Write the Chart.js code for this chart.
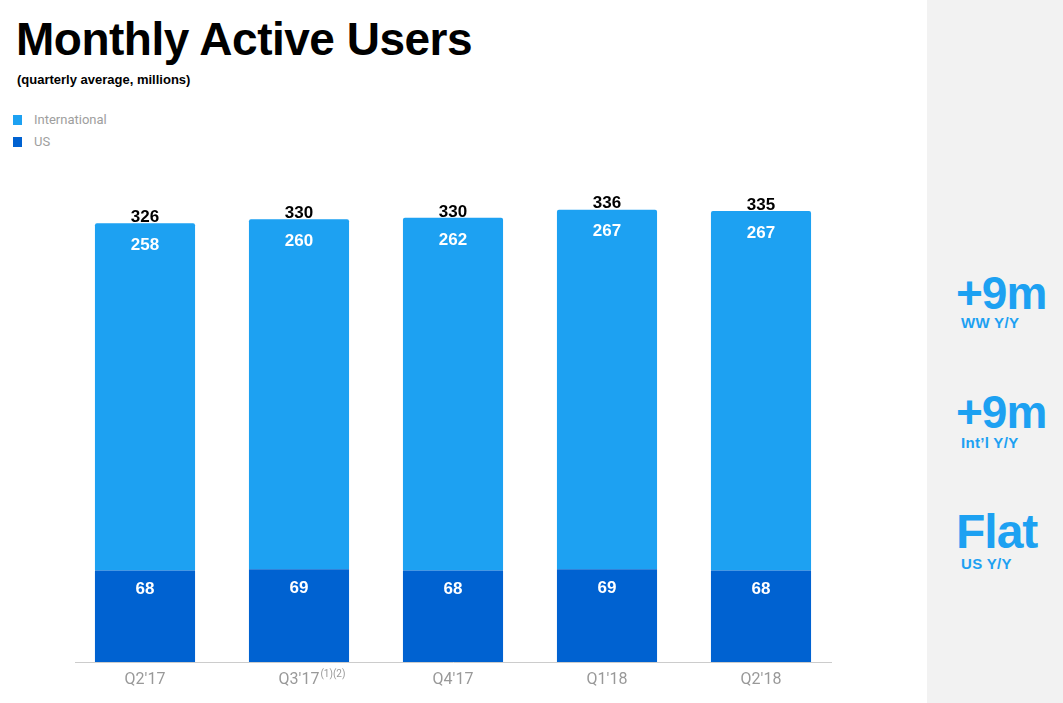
<!DOCTYPE html>
<html>
<head>
<meta charset="utf-8">
<script src="https://cdn.jsdelivr.net/npm/chart.js@4"></script>
<style>
  body { margin: 0; width: 1063px; height: 703px; overflow: hidden; background: #fff; font-family: "Liberation Sans", Arial, sans-serif; }
  #title { position: absolute; left: 16px; top: 12px; font-size: 46px; font-weight: bold; color: #000; letter-spacing: -0.5px; }
  #subtitle { position: absolute; left: 17px; top: 72px; font-size: 13px; font-weight: bold; color: #000; }
  .leg { position: absolute; left: 13px; font-family: Roboto, sans-serif; font-size: 13px; color: #9e9e9e; }
  .leg span { display: inline-block; width: 9px; height: 10px; margin-right: 12px; vertical-align: -1px; }
  #side { position: absolute; left: 927px; top: 0; width: 136px; height: 703px; background: #f2f2f2; color: #1da1f2; font-weight: bold; }
  .big { position: absolute; left: 29px; font-size: 46px; letter-spacing: -1px; }
  .small { position: absolute; left: 34px; font-size: 15px; letter-spacing: 0.3px; }
  #wrap { position: absolute; left: 0; top: 0; width: 927px; height: 703px; }
</style>
</head>
<body>
<div id="title">Monthly Active Users</div>
<div id="subtitle">(quarterly average, millions)</div>
<div class="leg" style="top:112px"><span style="background:#1da1f2"></span>International</div>
<div class="leg" style="top:134px"><span style="background:#0062d1"></span>US</div>
<div id="side">
  <div class="big" style="top:266px">+9m</div>
  <div class="small" style="top:314px">WW Y/Y</div>
  <div class="big" style="top:385px">+9m</div>
  <div class="small" style="top:434px">Int’l Y/Y</div>
  <div class="big" style="top:504px; font-size:48px">Flat</div>
  <div class="small" style="top:555px">US Y/Y</div>
</div>
<div id="wrap"><canvas id="mau"></canvas></div>
<script>
// data
const quarters = ["Q2'17", "Q3'17", "Q4'17", "Q1'18", "Q2'18"];
const footnotes = ["", "(1)(2)", "", "", ""];
const international = [258, 260, 262, 267, 267];
const us = [68, 69, 68, 69, 68];
const totals = [326, 330, 330, 336, 335];

// value labels on the bars, baseline and superscripts on ticks
const labelPlugin = {
  id: "labels",
  beforeDatasetsDraw(chart) {
    const ctx = chart.ctx;
    const a = chart.chartArea;
    ctx.save();
    ctx.strokeStyle = "#cccccc";
    ctx.lineWidth = 1;
    ctx.beginPath();
    ctx.moveTo(a.left + 7, a.bottom + 0.5);
    ctx.lineTo(a.right - 6, a.bottom + 0.5);
    ctx.stroke();
    ctx.restore();
  },
  afterDatasetsDraw(chart) {
    const ctx = chart.ctx;
    ctx.save();
    ctx.textAlign = "center";
    ctx.textBaseline = "middle";
    const usMeta = chart.getDatasetMeta(0);
    const intMeta = chart.getDatasetMeta(1);
    ctx.font = "bold 17px 'Liberation Sans', Arial";
    usMeta.data.forEach((bar, i) => {
      ctx.fillStyle = "#fff";
      ctx.fillText(us[i], bar.x, bar.y + 19);
    });
    intMeta.data.forEach((bar, i) => {
      ctx.fillStyle = "#fff";
      ctx.fillText(international[i], bar.x, bar.y + 22);
      ctx.fillStyle = "#000";
      ctx.fillText(totals[i], bar.x, bar.y - 6);
    });
    // footnotes
    const xs = chart.scales.x;
    ctx.textAlign = "left";
    footnotes.forEach((f, i) => {
      if (!f) return;
      const x = xs.getPixelForValue(i);
      ctx.font = "16px Roboto";
      const w = ctx.measureText(quarters[i]).width;
      ctx.font = "10px Roboto";
      ctx.fillStyle = "#999";
      ctx.fillText(f, x + w / 2 + 1, chart.chartArea.bottom + 12);
    });
    ctx.restore();
  }
};

new Chart(document.getElementById("mau"), {
  type: "bar",
  data: {
    labels: quarters,
    datasets: [
      { label: "US", data: us, backgroundColor: "#0062d1" },
      { label: "International", data: international, backgroundColor: "#1da1f2", borderRadius: { topLeft: 2, topRight: 2 }, borderSkipped: "bottom" }
    ]
  },
  options: {
    responsive: true,
    maintainAspectRatio: false,
    animation: false,
    layout: { padding: { left: 68, right: 89, top: 164, bottom: 0 } },
    datasets: { bar: { barPercentage: 0.65, categoryPercentage: 1 } },
    plugins: { legend: { display: false }, tooltip: { enabled: false } },
    scales: {
      x: {
        stacked: true,
        grid: { display: false, drawTicks: false },
        border: { display: false },
        ticks: { color: "#999", padding: 8, font: { family: "Roboto", size: 16 } },
        afterFit: (axis) => { axis.height = 41; }
      },
      y: { stacked: true, display: false, min: 0, max: 370 }
    }
  },
  plugins: [labelPlugin]
});
</script>
</body>
</html>
